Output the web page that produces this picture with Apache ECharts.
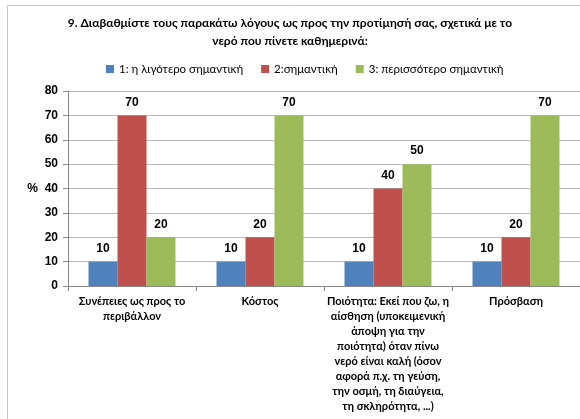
<!DOCTYPE html>
<html>
<head>
<meta charset="utf-8">
<script src="https://cdn.jsdelivr.net/npm/echarts@6/dist/echarts.min.js"></script>
<style>
  html, body { margin: 0; padding: 0; background: #fff; overflow: hidden; }
  #chart { width: 580px; height: 419px; }
</style>
</head>
<body>
<div id="chart"></div>
<script>
// Survey question 9: importance ratings of reasons for drinking-water preference (%)
const titleLines = [
  '9. Διαβαθμίστε τους παρακάτω λόγους ως προς την προτίμησή σας, σχετικά με το',
  'νερό που πίνετε καθημερινά:'
];
const categories = [
  'Συνέπειες ως προς το\nπεριβάλλον',
  'Κόστος',
  'Ποιότητα: Εκεί που ζω, η\nαίσθηση (υποκειμενική\nάποψη για την\nποιότητα) όταν πίνω\nνερό είναι καλή (όσον\nαφορά π.χ. τη γεύση,\nτην οσμή, τη διαύγεια,\nτη σκληρότητα, ...)',
  'Πρόσβαση'
];
const seriesNames = ['1: η λιγότερο σημαντική', '2:σημαντική', '3: περισσότερο σημαντική'];
const leastImportant = [10, 10, 10, 10];
const important = [70, 20, 40, 20];
const mostImportant = [20, 70, 50, 70];
const yTicks = { min: 0, max: 80, interval: 10 };

const colors = ['#4F81BD', '#C0504D', '#9BBB59'];
const seriesValues = [leastImportant, important, mostImportant];

const chart = echarts.init(document.getElementById('chart'), null, { renderer: 'canvas' });

const barSeries = seriesNames.map((name, i) => ({
  name: name,
  type: 'bar',
  data: seriesValues[i],
  barWidth: 29,
  barGap: '0%',
  itemStyle: { color: colors[i] },
  label: {
    show: true,
    position: 'top',
    distance: 7,
    fontFamily: 'Liberation Sans',
    fontWeight: 'bold',
    fontSize: 12,
    color: '#000'
  }
}));

chart.setOption({
  animation: false,
  backgroundColor: '#fff',
  graphic: [{
    type: 'rect',
    shape: { x: 7.5, y: 5.5, width: 600, height: 430 },
    style: { fill: 'none', stroke: '#c6c6c6', lineWidth: 1 },
    silent: true,
    z: -1
  }],
  title: {
    text: titleLines.join('\n'),
    left: 'center',
    top: 14,
    padding: [0, 22, 0, 0],
    textStyle: {
      fontFamily: 'Lato',
      fontWeight: 'bold',
      fontSize: 12,
      lineHeight: 18,
      color: '#000'
    }
  },
  legend: {
    data: seriesNames,
    top: 63,
    left: 106,
    padding: 0,
    icon: 'rect',
    itemWidth: 8,
    itemHeight: 8,
    itemGap: 18,
    textStyle: { fontFamily: 'Lato', fontSize: 11.5, color: '#000' }
  },
  grid: { left: 68, right: -10, top: 91, bottom: 133, containLabel: false },
  xAxis: {
    type: 'category',
    data: categories,
    axisLine: { show: true, lineStyle: { color: '#868686' } },
    axisTick: { show: true, length: 5, lineStyle: { color: '#868686' } },
    axisLabel: {
      interval: 0,
      margin: 8,
      fontFamily: 'Lato',
      fontWeight: 'bold',
      fontSize: 11,
      lineHeight: 15,
      color: '#000'
    }
  },
  yAxis: {
    type: 'value',
    min: yTicks.min,
    max: yTicks.max,
    interval: yTicks.interval,
    name: '%',
    nameLocation: 'middle',
    nameRotate: 0,
    nameGap: 30,
    nameTextStyle: { fontFamily: 'Liberation Sans', fontWeight: 'bold', fontSize: 12, color: '#000' },
    axisLine: { show: true, lineStyle: { color: '#868686' } },
    axisTick: { show: true, length: 5, lineStyle: { color: '#868686' } },
    axisLabel: {
      margin: 10,
      fontFamily: 'Liberation Sans',
      fontWeight: 'bold',
      fontSize: 12,
      color: '#000'
    },
    splitLine: { show: true, lineStyle: { color: '#b9b9b9' } }
  },
  series: barSeries
});
</script>
</body>
</html>
